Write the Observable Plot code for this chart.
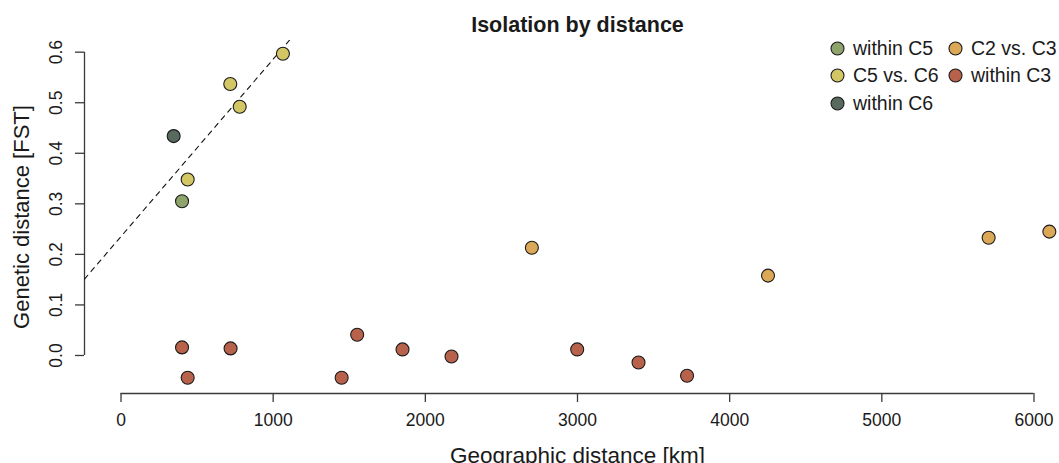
<!DOCTYPE html>
<html>
<head>
<meta charset="utf-8">
<script src="https://cdn.jsdelivr.net/npm/d3@7"></script>
<script src="https://cdn.jsdelivr.net/npm/@observablehq/plot@0.6"></script>
<style>
  html, body { margin: 0; padding: 0; background: #fff; }
  #wrap { position: relative; width: 1059px; height: 463px; overflow: hidden;
          font-family: "Liberation Sans", Arial, Helvetica, sans-serif; }
  #legend { position: absolute; left: 830px; top: 35px; display: grid;
            grid-template-columns: 118px 110px; grid-template-rows: repeat(3, 27.3px);
            grid-auto-flow: column; font-size: 19.5px; color: #1a1a1a; }
  #legend .item { display: flex; align-items: center; white-space: nowrap; }
  #legend svg { margin-right: 8px; flex: none; }
</style>
</head>
<body>
<div id="wrap"><div id="legend"></div></div>
<script>
// ---- data ----
const groupNames = ["within C5", "C5 vs. C6", "within C6", "C2 vs. C3", "within C3"];
const groupColors = ["#8fa36d", "#d2c764", "#586a5d", "#dba857", "#b8624b"];

const distKm = [401, 438, 718, 780, 1064, 346,
                401, 438, 720, 1450, 1552, 1850, 2172, 2998, 3401, 3720,
                2700, 4252, 5702, 6101];
const fst = [0.305, 0.348, 0.537, 0.492, 0.597, 0.434,
             0.016, -0.044, 0.014, -0.044, 0.041, 0.012, -0.002, 0.012, -0.014, -0.040,
             0.213, 0.158, 0.233, 0.245];
const pairGroup = ["within C5", "C5 vs. C6", "C5 vs. C6", "C5 vs. C6", "C5 vs. C6", "within C6",
                   "within C3", "within C3", "within C3", "within C3", "within C3", "within C3",
                   "within C3", "within C3", "within C3", "within C3",
                   "C2 vs. C3", "C2 vs. C3", "C2 vs. C3", "C2 vs. C3"];

const xTicks = [0, 1000, 2000, 3000, 4000, 5000, 6000];
const yTicks = [0.0, 0.1, 0.2, 0.3, 0.4, 0.5, 0.6];

// regression (abline) fitted to the C5/C6 comparisons
const regIntercept = 0.2354;
const regSlope = 0.0003507;

// ---- build ----
const points = distKm.map((d, i) => ({dist: d, fst: fst[i], group: pairGroup[i]}));
const xDomain = [-240, 6240];
const yDomain = [-0.0752, 0.6231];
const regLine = xDomain.map(x => ({x, y: regIntercept + regSlope * x}));
const font = "'Liberation Sans', Arial, Helvetica, sans-serif";
const ink = "#1a1a1a";
const axisInk = "#3a3a3a";

const chart = Plot.plot({
  width: 1059,
  height: 463,
  marginLeft: 84,
  marginRight: -11,
  marginTop: 40,
  marginBottom: 70,
  style: {fontFamily: font, background: "#fff", color: ink},
  x: {domain: xDomain, axis: null},
  y: {domain: yDomain, axis: null},
  color: {domain: groupNames, range: groupColors},
  marks: [
    // x axis line + ticks + labels
    Plot.ruleY([yDomain[0]], {x1: d3.min(xTicks), x2: d3.max(xTicks), stroke: axisInk, strokeWidth: 1.3}),
    Plot.axisX({ticks: xTicks, tickSize: 9, tickFormat: () => "",
                label: null, stroke: axisInk, strokeWidth: 1.3}),
    Plot.text(xTicks, {x: d => d, text: d => String(d), frameAnchor: "bottom", dy: 32,
                textAnchor: "middle", lineAnchor: "bottom", fontSize: 17.5, fill: ink}),
    // y axis line + ticks + rotated labels
    Plot.ruleX([xDomain[0]], {y1: d3.min(yTicks), y2: d3.max(yTicks), stroke: axisInk, strokeWidth: 1.3}),
    Plot.axisY({ticks: yTicks, tickSize: 9, tickFormat: () => "",
                label: null, stroke: axisInk, strokeWidth: 1.3}),
    Plot.text(yTicks, {y: d => d, text: d => d.toFixed(1), frameAnchor: "left", dx: -22.5,
                rotate: -90, textAnchor: "middle", lineAnchor: "bottom", fontSize: 17.5, fill: ink}),
    // axis titles
    Plot.text(["Geographic distance [km]"], {frameAnchor: "bottom", dy: 69, lineAnchor: "bottom",
                textAnchor: "middle", fontSize: 22.5, fill: ink}),
    Plot.text(["Genetic distance [FST]"], {frameAnchor: "left", dx: -56, rotate: -90,
                textAnchor: "middle", lineAnchor: "bottom", fontSize: 22, fill: ink}),
    Plot.text(["Isolation by distance"], {frameAnchor: "top", dy: -8.5, lineAnchor: "bottom",
                textAnchor: "middle", fontSize: 21.5, fontWeight: "bold", fill: ink}),
    // regression line
    Plot.line(regLine, {x: "x", y: "y", stroke: "#111", strokeWidth: 1.1, strokeDasharray: "5,5", clip: true}),
    // points
    Plot.dot(points, {x: "dist", y: "fst", r: 6.5, fill: "group", stroke: "#1a1a1a", strokeWidth: 1.1})
  ]
});
document.getElementById("wrap").prepend(chart);

// legend
const legend = d3.select("#legend");
groupNames.forEach((name, i) => {
  const item = legend.append("div").attr("class", "item");
  const s = item.append("svg").attr("width", 15).attr("height", 15);
  s.append("circle").attr("cx", 7.5).attr("cy", 7.5).attr("r", 6.5)
    .attr("fill", groupColors[i]).attr("stroke", "#1a1a1a").attr("stroke-width", 1.1);
  item.append("span").text(name);
});
</script>
</body>
</html>
